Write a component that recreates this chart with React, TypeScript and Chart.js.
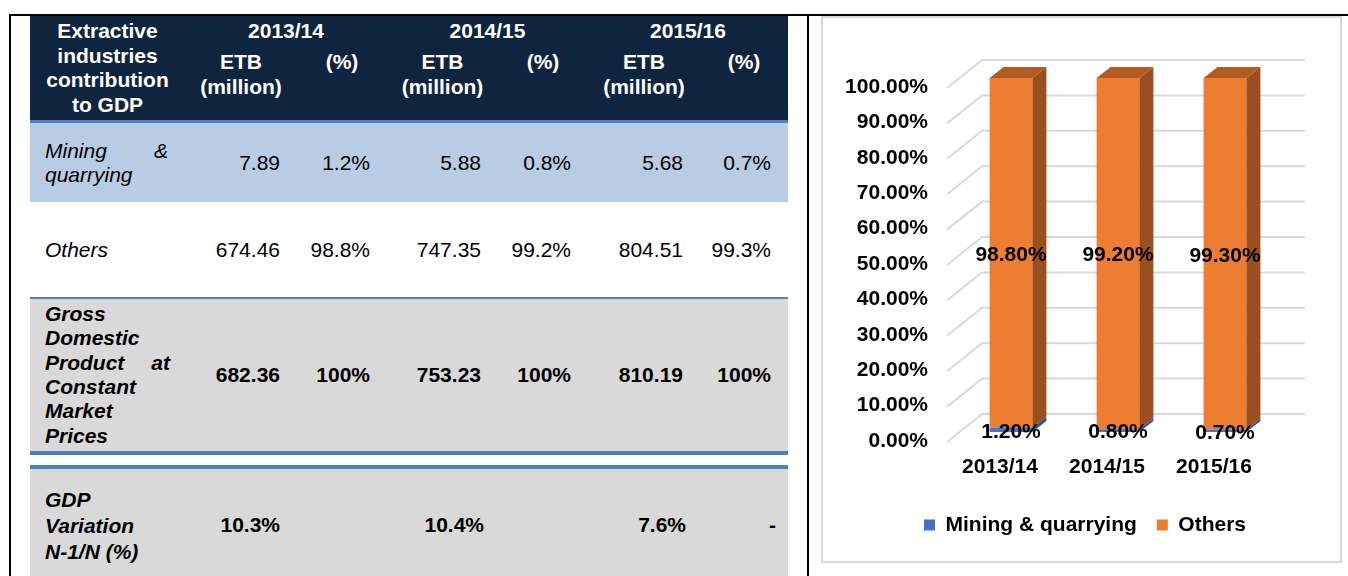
import React, { useEffect, useRef } from "react";
import { Chart, registerables } from "chart.js";

Chart.register(...registerables);

// ---------- chart data ----------
const categories = ["2013/14", "2014/15", "2015/16"];
const seriesNames = ["Mining & quarrying", "Others"];
const miningShare = [0.012, 0.008, 0.007];
const othersShare = [0.988, 0.992, 0.993];

// ---------- table data ----------
const years = ["2013/14", "2014/15", "2015/16"];
const miningETB = ["7.89", "5.88", "5.68"];
const miningPct = ["1.2%", "0.8%", "0.7%"];
const othersETB = ["674.46", "747.35", "804.51"];
const othersPct = ["98.8%", "99.2%", "99.3%"];
const gdpETB = ["682.36", "753.23", "810.19"];
const gdpPct = ["100%", "100%", "100%"];
const gdpVariation = ["10.3%", "10.4%", "7.6%"];
const gdpVariationLast = "-";

const FONT = "'Liberation Sans', Arial, Helvetica, sans-serif";
const NAVY = "#0f243e";
const BLUE_LINE = "#4f81bd";
const COLS = [30, 185, 297, 387, 498, 588, 700, 788];

const BAR_BLUE = "#4472c4";
const BAR_ORANGE = "#ed7d31";
const SIDE_COLORS = ["#2f528f", "#9c4f1e"];
const TOP_COLORS = ["#3a64ad", "#b35c22"];
const GRID = "#d9d9d9";

const pct2 = (v: number) => (v * 100).toFixed(2) + "%";

const threeD = {
  id: "threeD",
  beforeDatasetsDraw(chart: any) {
    const { ctx, chartArea } = chart;
    const ys = chart.scales.y;
    ctx.save();
    ctx.strokeStyle = GRID;
    ctx.lineWidth = 2;
    ys.ticks.forEach((t: any) => {
      const py = ys.getPixelForValue(t.value);
      ctx.beginPath();
      ctx.moveTo(chartArea.left - 10.5, py + 10);
      ctx.lineTo(chartArea.left + 24.5, py - 18);
      ctx.lineTo(chartArea.right + 26.5, py - 18);
      ctx.stroke();
    });
    ctx.restore();
  },
  afterDatasetsDraw(chart: any) {
    const { ctx } = chart;
    const n = chart.data.datasets.length;
    const dx = 14;
    const dy = -11;
    ctx.save();
    for (let d = 0; d < n; d++) {
      const meta = chart.getDatasetMeta(d);
      meta.data.forEach((bar: any) => {
        const right = bar.x + bar.width / 2;
        const left = bar.x - bar.width / 2;
        const top = bar.y;
        const bottom = bar.base;
        ctx.fillStyle = SIDE_COLORS[d];
        ctx.beginPath();
        ctx.moveTo(right, bottom);
        ctx.lineTo(right + dx, bottom + dy);
        ctx.lineTo(right + dx, top + dy);
        ctx.lineTo(right, top);
        ctx.closePath();
        ctx.fill();
        if (d === n - 1) {
          ctx.fillStyle = TOP_COLORS[d];
          ctx.beginPath();
          ctx.moveTo(left, top);
          ctx.lineTo(left + dx, top + dy);
          ctx.lineTo(right + dx, top + dy);
          ctx.lineTo(right, top);
          ctx.closePath();
          ctx.fill();
        }
      });
    }
    ctx.fillStyle = "#000";
    ctx.font = `bold 21px ${FONT}`;
    ctx.textAlign = "center";
    ctx.textBaseline = "middle";
    for (let d = 0; d < n; d++) {
      const meta = chart.getDatasetMeta(d);
      meta.data.forEach((bar: any, i: number) => {
        const v = chart.data.datasets[d].data[i] as number;
        ctx.fillText(pct2(v), bar.x, (bar.y + bar.base) / 2 + 2);
      });
    }
    ctx.restore();
  },
};

const abs = (l: number, t: number, w: number, h?: number): React.CSSProperties => ({
  position: "absolute",
  left: l,
  top: t,
  width: w,
  ...(h !== undefined ? { height: h } : {}),
});

function ValueCell({ l, r, t, h, bold, pad = 17, children }: any) {
  return (
    <div
      style={{
        ...abs(l, t, r - l, h),
        display: "flex",
        alignItems: "center",
        justifyContent: "flex-end",
        paddingRight: pad,
        boxSizing: "border-box",
        fontWeight: bold ? 700 : 400,
        lineHeight: "24px",
        color: "#000",
      }}
    >
      {children}
    </div>
  );
}

function ValueRow({ etb, pct, t, h, bold }: any) {
  return (
    <>
      {[0, 1, 2].map((i) => (
        <React.Fragment key={i}>
          <ValueCell l={COLS[1 + 2 * i]} r={COLS[2 + 2 * i]} t={t} h={h} bold={bold}>
            {etb[i]}
          </ValueCell>
          <ValueCell l={COLS[2 + 2 * i]} r={COLS[3 + 2 * i]} t={t} h={h} bold={bold}>
            {pct[i]}
          </ValueCell>
        </React.Fragment>
      ))}
    </>
  );
}

export default function App() {
  const canvasRef = useRef<HTMLCanvasElement>(null);

  useEffect(() => {
    const canvas = canvasRef.current;
    if (!canvas) return;
    const labelFont = { family: FONT, size: 21, weight: "bold" as const };
    const chart = new Chart(canvas, {
      type: "bar",
      data: {
        labels: categories,
        datasets: [
          { label: seriesNames[0], data: miningShare, backgroundColor: BAR_BLUE, borderWidth: 0 },
          { label: seriesNames[1], data: othersShare, backgroundColor: BAR_ORANGE, borderWidth: 0 },
        ],
      },
      options: {
        responsive: false,
        animation: false,
        devicePixelRatio: 1,
        layout: { padding: { left: 15, right: 8, top: 60, bottom: 15.5 } },
        datasets: { bar: { barPercentage: 0.4, categoryPercentage: 1 } },
        scales: {
          x: {
            stacked: true,
            grid: { display: false, drawTicks: false },
            border: { display: false },
            ticks: { padding: 22.4, labelOffset: -11, color: "#000", font: labelFont },
            afterFit: (s: any) => {
              s.height = 62.5;
            },
          },
          y: {
            stacked: true,
            min: 0,
            max: 1,
            grid: { display: false, drawTicks: false },
            border: { display: false },
            ticks: {
              stepSize: 0.1,
              padding: 29.5,
              labelOffset: 9,
              color: "#000",
              font: labelFont,
              callback: (v: any) => pct2(Number(v)),
            },
            afterFit: (s: any) => {
              s.width = 119.5;
            },
          },
          y2: {
            position: "right",
            display: true,
            grid: { display: false, drawTicks: false },
            border: { display: false },
            ticks: { display: false },
            afterFit: (s: any) => {
              s.width = 53.5;
            },
          },
        },
        plugins: {
          legend: {
            position: "bottom",
            labels: { boxWidth: 11, boxHeight: 11, padding: 20, color: "#000", font: labelFont },
          },
          tooltip: { enabled: false },
        },
      },
      plugins: [threeD],
    } as any);
    return () => chart.destroy();
  }, []);

  const base: React.CSSProperties = {
    position: "fixed",
    left: 0,
    top: 0,
    width: 1348,
    height: 576,
    overflow: "hidden",
    background: "#fff",
    fontFamily: FONT,
    fontSize: 21,
    color: "#000",
  };

  return (
    <div style={base}>
      {/* document frame lines */}
      <div style={{ ...abs(9, 14, 1339, 2), background: "#000" }} />
      <div style={{ ...abs(9, 14, 2, 562), background: "#000" }} />
      <div style={{ ...abs(807, 14, 2, 562), background: "#000" }} />

      {/* table backgrounds */}
      <div style={{ ...abs(30, 16, 758, 104), background: NAVY }} />
      <div style={{ ...abs(30, 120, 758, 3), background: BLUE_LINE }} />
      <div style={{ ...abs(30, 123, 758, 79), background: "#b8cce4" }} />
      <div style={{ ...abs(30, 297, 758, 2), background: BLUE_LINE }} />
      <div style={{ ...abs(30, 299, 758, 152), background: "#d9d9d9" }} />
      <div style={{ ...abs(30, 451, 758, 4), background: BLUE_LINE }} />
      <div style={{ ...abs(30, 465, 758, 4), background: BLUE_LINE }} />
      <div style={{ ...abs(30, 469, 758, 107), background: "#d9d9d9" }} />

      {/* header */}
      <div
        style={{
          ...abs(30, 19, 155),
          textAlign: "center",
          lineHeight: "24.5px",
          fontWeight: 700,
          color: "#fff",
        }}
      >
        Extractive
        <br />
        industries
        <br />
        contribution
        <br />
        to GDP
      </div>
      {years.map((yr, i) => (
        <React.Fragment key={yr}>
          <div
            style={{
              ...abs(COLS[1 + 2 * i], 19, COLS[3 + 2 * i] - COLS[1 + 2 * i]),
              textAlign: "center",
              lineHeight: "24.5px",
              fontWeight: 700,
              color: "#fff",
            }}
          >
            {yr}
          </div>
          <div
            style={{
              ...abs(COLS[1 + 2 * i], 48.5, COLS[2 + 2 * i] - COLS[1 + 2 * i]),
              textAlign: "center",
              lineHeight: "25px",
              fontWeight: 700,
              color: "#fff",
            }}
          >
            ETB
            <br />
            (million)
          </div>
          <div
            style={{
              ...abs(COLS[2 + 2 * i], 48.5, COLS[3 + 2 * i] - COLS[2 + 2 * i]),
              textAlign: "center",
              lineHeight: "25px",
              fontWeight: 700,
              color: "#fff",
            }}
          >
            (%)
          </div>
        </React.Fragment>
      ))}

      {/* Mining row */}
      <div style={{ ...abs(45, 138.5, 123), lineHeight: "24px", fontStyle: "italic" }}>
        <div style={{ display: "flex", justifyContent: "space-between" }}>
          <span>Mining</span>
          <span>&amp;</span>
        </div>
        <div>quarrying</div>
      </div>
      <ValueRow etb={miningETB} pct={miningPct} t={123} h={79} />

      {/* Others row */}
      <div style={{ ...abs(45, 237.5, 140), lineHeight: "24px", fontStyle: "italic" }}>Others</div>
      <ValueRow etb={othersETB} pct={othersPct} t={202} h={95} />

      {/* GDP row */}
      <div
        style={{
          ...abs(45, 301.8, 125),
          lineHeight: "24.4px",
          fontStyle: "italic",
          fontWeight: 700,
        }}
      >
        <div>Gross</div>
        <div>Domestic</div>
        <div style={{ display: "flex", justifyContent: "space-between" }}>
          <span>Product</span>
          <span>at</span>
        </div>
        <div>Constant</div>
        <div>Market</div>
        <div>Prices</div>
      </div>
      <ValueRow etb={gdpETB} pct={gdpPct} t={299} h={152} bold />

      {/* GDP variation row */}
      <div
        style={{
          ...abs(45, 487, 140),
          lineHeight: "26px",
          fontStyle: "italic",
          fontWeight: 700,
        }}
      >
        <div>GDP</div>
        <div>Variation</div>
        <div>N-1/N (%)</div>
      </div>
      {gdpVariation.map((v, i) => (
        <ValueCell key={i} l={COLS[1 + 2 * i]} r={COLS[2 + 2 * i]} t={512} h={26} bold pad={i === 0 ? 17 : 14}>
          {v}
        </ValueCell>
      ))}
      <ValueCell l={COLS[6]} r={COLS[7]} t={512} h={26} bold pad={12}>
        {gdpVariationLast}
      </ValueCell>

      {/* chart frame */}
      <div
        style={{
          ...abs(821, 16, 521, 547),
          border: "2px solid #d9d9d9",
          boxSizing: "border-box",
        }}
      />
      <canvas
        ref={canvasRef}
        width={517}
        height={543}
        style={{ position: "absolute", left: 823, top: 18, width: 517, height: 543 }}
      />
    </div>
  );
}
